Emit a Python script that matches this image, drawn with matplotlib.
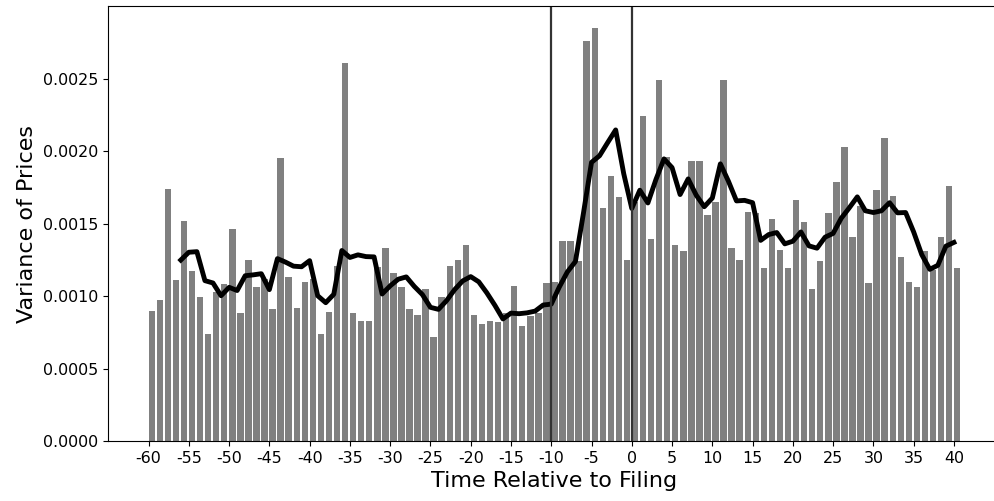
import numpy as np
import pandas as pd
import matplotlib
matplotlib.use("Agg")
import matplotlib.pyplot as plt

plt.rcParams['axes.unicode_minus'] = False

# days relative to filing
days = list(range(-60, 41))

# variance of prices per day
variance = [
    0.00090, 0.00097, 0.00174, 0.00111, 0.00152, 0.00117, 0.00099, 0.00074, 0.00103, 0.00108,  # -60..-51
    0.00146, 0.00088, 0.00125, 0.00106, 0.00112, 0.00091, 0.00195, 0.00113, 0.00092, 0.00110,  # -50..-41
    0.00112, 0.00074, 0.00089, 0.00121, 0.00261, 0.00088, 0.00083, 0.00083, 0.00120, 0.00133,  # -40..-31
    0.00116, 0.00106, 0.00091, 0.00087, 0.00105, 0.00072, 0.00099, 0.00121, 0.00125, 0.00135,  # -30..-21
    0.00087, 0.00081, 0.00083, 0.00082, 0.00088, 0.00107, 0.00079, 0.00086, 0.00088, 0.00109,  # -20..-11
    0.00110, 0.00138, 0.00138, 0.00124, 0.00276, 0.00285, 0.00161, 0.00183, 0.00168, 0.00125,  # -10..-1
    0.00165, 0.00224, 0.00139, 0.00249, 0.00196, 0.00135, 0.00131, 0.00193, 0.00193, 0.00156,  # 0..9
    0.00165, 0.00249, 0.00133, 0.00125, 0.00158, 0.00157, 0.00119, 0.00153, 0.00132, 0.00119,  # 10..19
    0.00166, 0.00151, 0.00105, 0.00124, 0.00157, 0.00179, 0.00203, 0.00141, 0.00162, 0.00109,  # 20..29
    0.00173, 0.00209, 0.00169, 0.00127, 0.00110, 0.00106, 0.00131, 0.00118, 0.00141, 0.00176,  # 30..39
    0.00119,  # 40
]
assert len(variance) == len(days)

tick_pos = list(range(-60, 41, 5))
event_days = [-10, 0]

# 5-day trailing mean
rolling = pd.Series(variance, index=days).rolling(5).mean()

fig = plt.figure(figsize=(9.95, 5.01), dpi=100)
ax = fig.add_axes([0.1085, 0.1198, 0.8975, 0.868])

ax.bar(days, variance, width=0.8, align='edge', color='grey')
ax.plot(rolling.index, rolling.values, color='black', linewidth=3.5)
for d in event_days:
    ax.axvline(d, color='#333333', linewidth=1.6)

ax.set_xlim(-65.04, 45.84)
ax.set_ylim(0, 0.003)
ax.set_yticks([0, 0.0005, 0.001, 0.0015, 0.002, 0.0025])
ax.set_yticklabels(['0.0000', '0.0005', '0.0010', '0.0015', '0.0020', '0.0025'])
ax.set_xticks(tick_pos)
ax.tick_params(labelsize=11.4)
ax.set_xlabel('Time Relative to Filing', fontsize=16)
ax.set_ylabel('Variance of Prices', fontsize=16)

fig.savefig('out.png', dpi=100)
